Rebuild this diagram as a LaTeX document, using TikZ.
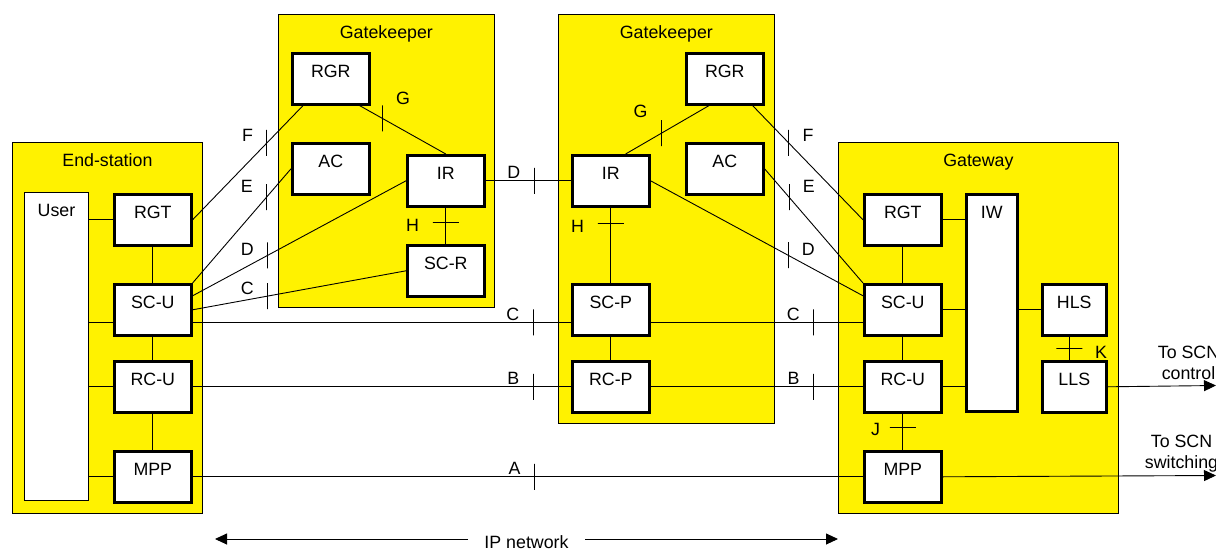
\documentclass[tikz,border=0pt]{standalone}
\usepackage{fontspec}
\setmainfont{Liberation Sans}
\usetikzlibrary{arrows.meta}

\begin{document}
\begin{tikzpicture}[x=1pt, y=-1pt, line width=0.9pt,
    font=\fontsize{17.8}{21}\selectfont,
    site/.style={draw, fill=yellow, line width=0.8pt, inner sep=0pt,
        anchor=north west, text height=24.4pt},
    unit/.style={draw, fill=white, line width=2.6pt, inner sep=0pt,
        anchor=north west, minimum width=77pt,
        text height=24.4pt, text depth=26.6pt},
    vtick/.style={draw, inner sep=0pt, minimum width=0pt, minimum height=26pt},
    htick/.style={draw, inner sep=0pt, minimum width=26pt, minimum height=0pt},
    every label/.style={inner sep=0pt},
    sig/.style={-{Triangle[length=12pt, width=11pt]}}]

    \useasboundingbox (0,0) rectangle (1216,549);

    % Yellow sites
    \node[site, minimum width=190pt, text depth=346.6pt] (es) at (12,142) {End-station};
    \node[site, minimum width=216pt, text depth=268.6pt] (gk1) at (278,14) {Gatekeeper};
    \node[site, minimum width=216pt, text depth=384.6pt] (gk2) at (558,14) {Gatekeeper};
    \node[site, minimum width=280pt, text depth=346.6pt] (gw) at (838,142) {Gateway};

    % End-station units
    \node[unit, line width=0.9pt, minimum width=64pt, text depth=283.6pt] (user) at (24,192) {User};
    \node[unit] (esrgt) at (113,193) {RGT};
    \node[unit] (escu) at (113,283) {SC-U};
    \node[unit] (esrcu) at (113,360) {RC-U};
    \node[unit] (esmpp) at (113,450) {MPP};

    % Gatekeeper units
    \node[unit] (rgr1) at (291,52) {RGR};
    \node[unit] (ac1) at (291,142) {AC};
    \node[unit] (ir1) at (406,154) {IR};
    \node[unit] (scr) at (406,244) {SC-R};

    \node[unit] (rgr2) at (685,52) {RGR};
    \node[unit] (ac2) at (685,142) {AC};
    \node[unit] (ir2) at (571,154) {IR};
    \node[unit] (scp) at (571,283) {SC-P};
    \node[unit] (rcp) at (571,360) {RC-P};

    % Gateway units
    \node[unit] (gwrgt) at (863,193) {RGT};
    \node[unit] (gwscu) at (863,283) {SC-U};
    \node[unit] (gwrcu) at (863,360) {RC-U};
    \node[unit] (gwmpp) at (863,450) {MPP};
    \node[unit, minimum width=51pt, text depth=192.6pt] (iw) at (965,193) {IW};
    \node[unit, minimum width=64pt] (hls) at (1041,283) {HLS};
    \node[unit, minimum width=64pt] (lls) at (1041,360) {LLS};

    % Inside the end-station
    \draw (esrgt.west) -- (esrgt.west -| user.east);
    \draw ([yshift=-12.5pt]escu.west) coordinate (c1) -- (c1 -| user.east);
    \draw (esrcu.west) -- (esrcu.west -| user.east);
    \draw (esmpp.west) -- (esmpp.west -| user.east);
    \draw (esrgt) -- (escu) -- (esrcu) -- (esmpp);

    % End-station to first gatekeeper
    \draw (esrgt.east) -- node[vtick, pos=.673, label={[xshift=-13pt, yshift=8pt]left:F}] (tf1) {}
        ([xshift=12pt]rgr1.south west);
    \draw (escu.north east) -- node[vtick, pos=.752, label={[xshift=-13pt, yshift=11pt]left:E}] (te1) {}
        (ac1.west);
    \draw ([yshift=14pt]escu.east) -- node[vtick, pos=.352, label={[xshift=-13pt, yshift=6pt]left:D}] (td1) {}
        (ir1.west);
    \draw (escu.east) -- node[vtick, pos=.352, label={[xshift=-13pt, yshift=8pt]left:C}] (tc1) {}
        (scr.west);

    % Inside the first gatekeeper
    \draw ([xshift=-11pt]rgr1.south east) -- node[vtick, pos=.263, label={[xshift=13pt, yshift=20pt]right:G}] (tg1) {}
        (ir1.north);
    \draw (ir1) -- node[htick, pos=.41, label={[xshift=-13pt, yshift=-3pt]left:H}] (th1) {} (scr);

    % Gatekeeper to gatekeeper
    \draw (ir1) -- node[vtick, pos=.568, label={[xshift=-13pt, yshift=8pt]left:D}] (td2) {} (ir2);

    % Across the IP network
    \draw ([yshift=-12.5pt]escu.east) -- node[vtick, pos=.9, label={[xshift=-13pt, yshift=8pt]left:C}] (tc2) {}
        ([yshift=-12.5pt]scp.west);
    \draw ([yshift=-12.5pt]scp.east) -- node[vtick, pos=.767, label={[xshift=-13pt, yshift=8pt]left:C}] (tc3) {}
        ([yshift=-12.5pt]gwscu.west);
    \draw (esrcu) -- node[vtick, pos=.9, label={[xshift=-13pt, yshift=8pt]left:B}] (tb1) {} (rcp);
    \draw (rcp) -- node[vtick, pos=.767, label={[xshift=-13pt, yshift=8pt]left:B}] (tb2) {} (gwrcu);
    \draw (esmpp) -- node[vtick, pos=.51, label={[xshift=-13pt, yshift=8pt]left:A}] (ta) {} (gwmpp);

    % Inside the second gatekeeper
    \draw ([xshift=24pt]rgr2.south west) -- node[vtick, pos=.57, label={[xshift=-13pt, yshift=22pt]left:G}] (tg2) {}
        ([xshift=-25pt]ir2.north east);
    \draw (ir2) -- node[htick, pos=.205, label={[xshift=-13pt, yshift=-3pt]left:H}] (th2) {} (scp);
    \draw (scp) -- (rcp);

    % Second gatekeeper to gateway
    \draw ([xshift=-12pt]rgr2.south east) -- node[vtick, pos=.327, label={[xshift=13pt, yshift=8pt]right:F}] (tf2) {}
        (gwrgt.west);
    \draw (ac2.east) -- node[vtick, pos=.248, label={[xshift=13pt, yshift=11pt]right:E}] (te2) {}
        (gwscu.north west);
    \draw (ir2.east) -- node[vtick, pos=.647, label={[xshift=13pt, yshift=6pt]right:D}] (td3) {}
        ([yshift=14pt]gwscu.west);

    % Inside the gateway
    \draw (gwrgt) -- (gwscu) -- (gwrcu);
    \draw (gwrcu) -- node[htick, pos=.385, label={[xshift=-9pt, yshift=-2pt]left:J}] (tj) {} (gwmpp);
    \draw (gwrgt.east) -- (gwrgt.east -| iw.west);
    \draw (gwscu.east) -- (gwscu.east -| iw.west);
    \draw (gwrcu.east) -- (gwrcu.east -| iw.west);
    \draw (hls.west) -- (hls.west -| iw.east);
    \draw ([xshift=-5pt]hls.south) -- node[htick, pos=.5, label={[xshift=12pt, yshift=-4pt]right:K}] (tk) {}
        ([xshift=-5pt]lls.north);

    % Out to the SCN
    \coordinate (toctl) at (1216,385.5);
    \coordinate (tosw) at (1216,475.5);
    \draw[sig] (lls.east) -- (toctl);
    \draw[sig] (gwmpp.east) -- (tosw);
    \node[align=center, anchor=base] (ctl) at (1188.5,379.5) {To SCN\\control};
    \node[align=center, anchor=base] (sw) at (1181.5,468.5) {To SCN\\switching};

    % IP network
    \coordinate (ipl) at (215,539);
    \coordinate (ipr) at (838,539);
    \node[inner xsep=16pt, inner ysep=0pt, anchor=base] (ipnet) at (526.5,548) {IP network};
    \draw[sig] (ipnet.west |- ipl) -- (ipl);
    \draw[sig] (ipnet.east |- ipr) -- (ipr);

\end{tikzpicture}
\end{document}
